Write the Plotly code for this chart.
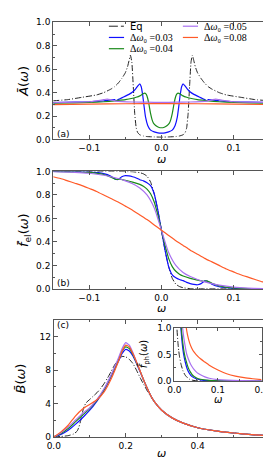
import plotly.graph_objects as go

# ---------------- data: panel (a)  A(w) ----------------
a_eq_x = [-0.15,-0.13,-0.11,-0.09,-0.08,-0.07,-0.065,-0.06,-0.055,-0.05,-0.047,-0.045,-0.043,-0.041,-0.039,-0.037,-0.035,-0.033,-0.03,-0.025,-0.02,-0.01,0.0,
          0.01,0.02,0.025,0.03,0.033,0.035,0.037,0.039,0.041,0.043,0.045,0.047,0.05,0.055,0.06,0.065,0.07,0.08,0.09,0.11,0.13,0.15]
a_eq_y = [0.33,0.34,0.36,0.38,0.40,0.43,0.45,0.48,0.52,0.57,0.62,0.67,0.72,0.66,0.45,0.22,0.10,0.06,0.04,0.03,0.025,0.022,0.02,
          0.022,0.025,0.03,0.04,0.06,0.10,0.22,0.45,0.66,0.72,0.67,0.62,0.57,0.52,0.48,0.45,0.43,0.40,0.38,0.36,0.34,0.33]
a_03_x = [-0.15,-0.12,-0.1,-0.08,-0.07,-0.065,-0.063,-0.06,-0.055,-0.05,-0.045,-0.04,-0.036,-0.033,-0.03,-0.028,-0.026,-0.024,-0.022,-0.019,-0.015,-0.01,-0.005,0.0,
          0.005,0.01,0.015,0.019,0.022,0.024,0.026,0.028,0.03,0.033,0.036,0.04,0.045,0.05,0.055,0.06,0.063,0.065,0.07,0.08,0.1,0.12,0.15]
a_03_y = [0.315,0.318,0.322,0.33,0.337,0.34,0.33,0.34,0.355,0.37,0.385,0.405,0.43,0.455,0.475,0.45,0.38,0.28,0.19,0.12,0.08,0.065,0.057,0.055,
          0.057,0.065,0.08,0.12,0.19,0.28,0.38,0.45,0.475,0.455,0.43,0.405,0.385,0.37,0.355,0.34,0.33,0.34,0.337,0.33,0.322,0.318,0.315]
a_04_x = [-0.15,-0.12,-0.1,-0.08,-0.065,-0.06,-0.05,-0.04,-0.035,-0.03,-0.026,-0.023,-0.021,-0.019,-0.017,-0.015,-0.013,-0.011,-0.008,-0.004,0.0,
          0.004,0.008,0.011,0.013,0.015,0.017,0.019,0.021,0.023,0.026,0.03,0.035,0.04,0.05,0.06,0.065,0.08,0.1,0.12,0.15]
a_04_y = [0.31,0.313,0.316,0.322,0.33,0.333,0.34,0.352,0.36,0.372,0.388,0.395,0.385,0.35,0.29,0.22,0.17,0.14,0.12,0.105,0.10,
          0.105,0.12,0.14,0.17,0.22,0.29,0.35,0.385,0.395,0.388,0.372,0.36,0.352,0.34,0.333,0.33,0.322,0.316,0.313,0.31]
a_05_x = [-0.15,-0.12,-0.1,-0.09,-0.08,-0.075,-0.07,-0.06,-0.04,-0.02,0.0,0.02,0.04,0.06,0.07,0.075,0.08,0.09,0.1,0.12,0.15]
a_05_y = [0.315,0.318,0.322,0.33,0.34,0.345,0.338,0.325,0.32,0.318,0.317,0.318,0.32,0.325,0.338,0.345,0.34,0.33,0.322,0.318,0.315]
a_08_x = [-0.15,-0.1,-0.05,0.0,0.05,0.1,0.15]
a_08_y = [0.298,0.302,0.305,0.306,0.305,0.302,0.298]

# ---------------- data: panel (b)  f_el(w) ----------------
b_eq_x = [-0.15,-0.06,-0.04,-0.03,-0.025,-0.02,-0.015,-0.01,-0.005,0.0,0.005,0.01,0.015,0.02,0.025,0.03,0.04,0.06,0.15]
b_eq_y = [1.0,1.0,0.998,0.99,0.98,0.96,0.91,0.81,0.67,0.5,0.33,0.19,0.09,0.04,0.02,0.01,0.002,0.0,0.0]
b_03_x = [-0.15,-0.12,-0.1,-0.08,-0.07,-0.064,-0.06,-0.055,-0.05,-0.045,-0.04,-0.035,-0.03,-0.025,-0.02,-0.015,-0.01,-0.005,0.0,
          0.005,0.01,0.015,0.02,0.025,0.03,0.035,0.04,0.045,0.05,0.055,0.06,0.064,0.07,0.08,0.1,0.12,0.15]
b_03_y = [1.0,0.999,0.996,0.982,0.96,0.935,0.932,0.955,0.965,0.962,0.955,0.945,0.93,0.92,0.905,0.88,0.81,0.67,0.5,
          0.33,0.19,0.12,0.095,0.08,0.07,0.055,0.045,0.038,0.035,0.045,0.068,0.065,0.04,0.018,0.004,0.001,0.0]
b_04_x = [-0.15,-0.12,-0.1,-0.08,-0.07,-0.063,-0.058,-0.05,-0.04,-0.03,-0.025,-0.02,-0.015,-0.01,-0.005,0.0,
          0.005,0.01,0.015,0.02,0.025,0.03,0.04,0.05,0.058,0.063,0.07,0.08,0.1,0.12,0.15]
b_04_y = [1.0,0.997,0.992,0.974,0.952,0.932,0.935,0.925,0.91,0.89,0.875,0.85,0.81,0.74,0.63,0.5,
          0.37,0.26,0.19,0.15,0.125,0.11,0.09,0.075,0.065,0.068,0.048,0.026,0.008,0.003,0.0]
b_05_x = [-0.15,-0.12,-0.1,-0.08,-0.07,-0.06,-0.05,-0.04,-0.03,-0.02,-0.01,-0.005,0.0,0.005,0.01,0.02,0.03,0.04,0.05,0.06,0.07,0.08,0.1,0.12,0.15]
b_05_y = [0.998,0.993,0.985,0.968,0.955,0.94,0.92,0.895,0.86,0.8,0.69,0.6,0.5,0.4,0.31,0.2,0.14,0.105,0.08,0.06,0.045,0.032,0.015,0.007,0.002]
b_08_x = [-0.15,-0.14,-0.13,-0.12,-0.11,-0.1,-0.09,-0.08,-0.07,-0.06,-0.05,-0.04,-0.03,-0.02,-0.01,0.0,
          0.01,0.02,0.03,0.04,0.05,0.06,0.07,0.08,0.09,0.1,0.11,0.12,0.13,0.14,0.15]
b_08_y = [0.955,0.94,0.92,0.9,0.88,0.855,0.83,0.8,0.77,0.74,0.705,0.67,0.63,0.59,0.545,0.5,
          0.455,0.41,0.37,0.33,0.295,0.26,0.23,0.2,0.17,0.145,0.12,0.1,0.08,0.06,0.045]

# ---------------- data: panel (c)  B(w) ----------------
c_eq_x = [0.0,0.02,0.04,0.055,0.065,0.07,0.075,0.08,0.085,0.09,0.1,0.11,0.12,0.13,0.14,0.15,0.16,0.17,0.18,0.19,0.2,0.21,0.22,0.23,0.24,0.25,0.26,0.27,0.28,0.3,0.33,0.36,0.4,0.45,0.5,0.55,0.6]
c_eq_y = [0.0,0.05,0.15,0.35,0.7,1.2,2.0,3.0,3.7,4.1,4.5,4.9,5.3,5.8,6.4,7.1,7.9,8.7,9.3,9.65,9.6,9.3,8.8,8.0,7.1,6.3,5.5,4.8,4.2,3.2,2.25,1.65,1.1,0.72,0.47,0.28,0.13]
c_x = [0.0,0.02,0.04,0.06,0.08,0.1,0.12,0.14,0.16,0.18,0.19,0.2,0.21,0.22,0.23,0.24,0.25,0.26,0.27,0.28,0.3,0.33,0.36,0.4,0.45,0.5,0.55,0.6]
c_03_y = [0.0,0.3,0.8,1.5,2.3,3.2,4.3,5.6,7.3,9.1,10.0,10.5,10.3,9.7,8.8,7.8,6.8,5.8,4.9,4.2,3.2,2.25,1.65,1.1,0.72,0.47,0.28,0.13]
c_04_y = [0.0,0.4,1.0,1.8,2.6,3.4,4.4,5.7,7.4,9.3,10.3,10.8,10.6,9.9,8.9,7.9,6.8,5.8,4.9,4.2,3.2,2.25,1.65,1.1,0.72,0.47,0.28,0.13]
c_05_y = [0.0,0.5,1.2,2.0,2.8,3.5,4.5,5.8,7.5,9.5,10.6,11.3,11.0,10.1,9.0,7.9,6.8,5.8,4.9,4.2,3.2,2.25,1.65,1.1,0.72,0.47,0.28,0.13]
c_08_y = [0.0,0.6,1.4,2.5,3.35,3.9,4.45,5.4,7.0,9.1,10.3,11.0,10.8,10.0,9.0,7.9,6.8,5.8,4.9,4.2,3.2,2.25,1.65,1.1,0.72,0.47,0.28,0.13]

# ---------------- data: inset  f_ph(w) ----------------
i_eq_x = [0.003,0.006,0.008,0.01,0.012,0.015,0.02,0.025,0.03,0.035,0.04,0.05,0.07,0.1,0.2]
i_eq_y = [2.0,1.0,0.75,0.58,0.46,0.33,0.19,0.11,0.065,0.035,0.02,0.007,0.001,0.0,0.0]
i_03_x = [0.008,0.012,0.015,0.018,0.021,0.025,0.03,0.035,0.04,0.05,0.06,0.08,0.1,0.15,0.2]
i_03_y = [2.0,1.3,1.0,0.72,0.52,0.36,0.22,0.14,0.09,0.045,0.025,0.01,0.005,0.001,0.0]
i_04_x = [0.009,0.013,0.016,0.019,0.023,0.027,0.032,0.037,0.042,0.05,0.06,0.08,0.1,0.15,0.2]
i_04_y = [2.0,1.3,1.0,0.75,0.52,0.38,0.25,0.17,0.11,0.065,0.035,0.014,0.007,0.002,0.0]
i_05_x = [0.01,0.015,0.019,0.022,0.025,0.028,0.032,0.036,0.04,0.046,0.052,0.06,0.07,0.08,0.1,0.12,0.15,0.2]
i_05_y = [2.0,1.3,1.0,0.8,0.65,0.52,0.42,0.34,0.28,0.21,0.16,0.12,0.08,0.055,0.03,0.018,0.01,0.004]
i_08_x = [0.018,0.024,0.0275,0.03,0.035,0.04,0.045,0.05,0.06,0.07,0.08,0.1,0.12,0.14,0.16,0.18,0.2]
i_08_y = [2.0,1.3,1.0,0.88,0.72,0.62,0.55,0.5,0.42,0.36,0.3,0.21,0.14,0.095,0.065,0.045,0.03]

series_names = ["Eq", "Δω0=0.03", "Δω0=0.04", "Δω0=0.05", "Δω0=0.08"]
legend_labels = ["Eq", "Δ<i>ω</i>₀ =0.03", "Δ<i>ω</i>₀ =0.04", "Δ<i>ω</i>₀ =0.05", "Δ<i>ω</i>₀ =0.08"]
colors = ["#222222", "#1010ff", "#1a8a1a", "#a870f0", "#ff5a28"]
dashes = ["6px,2px,1px,2px", "solid", "solid", "solid", "solid"]

W, H = 271, 461
def px(x): return x / W
def py(y): return 1 - y / H

fig = go.Figure()

panels = [
    ("x", "y", [(a_eq_x, a_eq_y), (a_03_x, a_03_y), (a_04_x, a_04_y), (a_05_x, a_05_y), (a_08_x, a_08_y)]),
    ("x2", "y2", [(b_eq_x, b_eq_y), (b_03_x, b_03_y), (b_04_x, b_04_y), (b_05_x, b_05_y), (b_08_x, b_08_y)]),
    ("x3", "y3", [(c_eq_x, c_eq_y), (c_x, c_03_y), (c_x, c_04_y), (c_x, c_05_y), (c_x, c_08_y)]),
    ("x4", "y4", [(i_eq_x, i_eq_y), (i_03_x, i_03_y), (i_04_x, i_04_y), (i_05_x, i_05_y), (i_08_x, i_08_y)]),
]
for p, (xa, ya, data) in enumerate(panels):
    for k, (xs, ys) in enumerate(data):
        fig.add_trace(go.Scatter(
            x=xs, y=ys, xaxis=xa, yaxis=ya, mode="lines", name=series_names[k],
            showlegend=False, cliponaxis=True,
            line=dict(color=colors[k], width=1.0 if k == 0 else 1.2, dash=dashes[k],
                      shape="spline", smoothing=0.35 if p == 0 else 0.5)))

tickfont = dict(family="DejaVu Sans", size=9, color="black")
def ax(**kw):
    d = dict(showline=True, linecolor="#555555", linewidth=1, mirror="ticks",
             ticks="inside", ticklen=4, tickcolor="#555555", tickwidth=1,
             showgrid=False, zeroline=False, tickfont=tickfont,
             minor=dict(ticks="inside", ticklen=2, tickcolor="#555555", tickwidth=1))
    d.update(kw)
    return d

titlefont = dict(family="DejaVu Sans", size=13, color="black")
xl, xr = px(40.3), px(268.5)

fig.update_layout(
    width=W, height=H, margin=dict(l=0, r=0, t=0, b=0),
    paper_bgcolor="white", plot_bgcolor="white",
    xaxis=ax(domain=[xl, xr], range=[-0.15, 0.15], anchor="y",
             tickvals=[-0.1, 0.0, 0.1], ticktext=["−0.1", "0.0", "0.1"], minor_dtick=0.05),
    yaxis=ax(domain=[py(129.3), py(9.5)], range=[0, 1.0], anchor="x",
             tickvals=[0, 0.2, 0.4, 0.6, 0.8, 1.0], ticktext=["0.0", "0.2", "0.4", "0.6", "0.8", "1.0"], minor_dtick=0.1,
             title=dict(text="<i>Ā</i>(<i>ω</i>)", font=titlefont, standoff=4)),
    xaxis2=ax(domain=[xl, xr], range=[-0.15, 0.15], anchor="y2",
              tickvals=[-0.1, 0.0, 0.1], ticktext=["−0.1", "0.0", "0.1"], minor_dtick=0.05),
    yaxis2=ax(domain=[py(282), py(162)], range=[0, 1.0], anchor="x2",
              tickvals=[0, 0.2, 0.4, 0.6, 0.8, 1.0], ticktext=["0.0", "0.2", "0.4", "0.6", "0.8", "1.0"], minor_dtick=0.1,
              title=dict(text="<i>f̄</i><sub>el</sub>(<i>ω</i>)", font=titlefont, standoff=4)),
    xaxis3=ax(domain=[px(40.9), xr], range=[0, 0.6], anchor="y3",
              tickvals=[0, 0.2, 0.4], ticktext=["0.0", "0.2", "0.4"], minor_dtick=0.1),
    yaxis3=ax(domain=[py(433.3), py(314)], range=[0, 14], anchor="x3",
              tickvals=[0, 4, 8, 12], ticktext=["0", "4", "8", "12"], minor_dtick=2,
              title=dict(text="<i>B̄</i>(<i>ω</i>)", font=titlefont, standoff=10)),
    xaxis4=ax(domain=[px(168), px(260)], range=[0, 0.2], anchor="y4",
              tickvals=[0, 0.1, 0.2], ticktext=["0.0", "0.1", "0.2"], minor_dtick=0.05, ticklen=3),
    yaxis4=ax(domain=[py(376.3), py(322)], range=[0, 1.0], anchor="x4",
              tickvals=[0, 0.5, 1.0], ticktext=["0.0", "0.5", "1.0"], minor_dtick=0.25, ticklen=3),
)

# inset background
fig.add_shape(type="rect", xref="paper", yref="paper", x0=px(168), x1=px(260), y0=py(376.3), y1=py(322),
              fillcolor="white", line=dict(width=0), layer="below")

# x-axis titles
for xc, yc, sz in [(154.4, 150.0, 11), (154.4, 302.5, 11), (154.7, 450.5, 11), (214, 395.5, 10)]:
    fig.add_annotation(text="<i>ω</i>", xref="paper", yref="paper", x=px(xc), y=py(yc), xanchor="center", yanchor="middle",
                       showarrow=False, font=dict(family="DejaVu Sans", size=sz, color="black"))

# inset y title
fig.add_annotation(text="<i>f̄</i><sub>ph</sub>(<i>ω</i>)", xref="paper", yref="paper", x=px(137), y=py(348),
                   xanchor="center", yanchor="middle", textangle=-90, showarrow=False,
                   font=dict(family="DejaVu Sans", size=10, color="black"))

# panel labels
for lab, yy in [("(a)", 123.3), ("(b)", 276.0), ("(c)", 318.5)]:
    fig.add_annotation(text=lab, xref="paper", yref="paper", x=px(42), y=py(yy), xanchor="left", yanchor="middle",
                       showarrow=False, font=dict(family="DejaVu Sans", size=9, color="black"))

# manual legend (matplotlib-style, two columns)
leg_pos = [(99, 13.5), (99, 25.0), (99, 36.5), (177, 13.5), (177, 25.0)]
for k, (lx, ly) in enumerate(leg_pos):
    fig.add_shape(type="line", xref="paper", yref="paper", x0=px(lx), x1=px(lx + 16), y0=py(ly), y1=py(ly),
                  line=dict(color=colors[k], width=1.0 if k == 0 else 1.2, dash="dashdot" if k == 0 else "solid"))
    fig.add_annotation(text=legend_labels[k], xref="paper", yref="paper", x=px(lx + 21), y=py(ly),
                       xanchor="left", yanchor="middle", showarrow=False, borderpad=0,
                       font=dict(family="DejaVu Sans" if k == 0 else "Liberation Serif", size=10, color="black"))

fig.write_html("out.html")
